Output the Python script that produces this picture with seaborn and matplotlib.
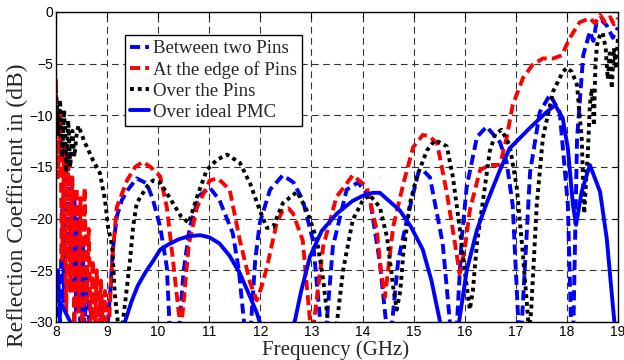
import matplotlib
matplotlib.use("Agg")
import matplotlib.pyplot as plt
import seaborn as sns

# ── Data ──────────────────────────────────────────────────────────────────────
f_between = [8.00, 8.04, 8.08, 8.12, 8.16, 8.20, 8.24, 8.28, 8.32, 8.36,
             8.40, 8.44, 8.48, 8.52, 8.56, 8.60, 8.66, 8.72, 8.80, 8.87,
             8.93, 9.00, 9.06, 9.12, 9.19, 9.29, 9.41, 9.58, 9.78, 9.90,
             10.04, 10.17, 10.22, 10.32, 10.42, 10.50, 10.62, 10.80, 11.01, 11.20, 11.46,
             11.58, 11.68, 11.75, 11.82, 11.90, 11.99, 12.19, 12.44, 12.65, 12.83, 13.03,
             13.17, 13.23, 13.30, 13.42, 13.69, 13.91, 14.14, 14.34, 14.46, 14.52, 14.58,
             14.70, 14.87, 15.09, 15.20, 15.32, 15.57, 15.71, 15.78, 15.85, 15.94, 16.04,
             16.24, 16.43, 16.69, 16.82, 16.94, 17.05, 17.08, 17.12, 17.28, 17.47, 17.67,
             17.86, 18.02, 18.08, 18.10, 18.13, 18.20, 18.32, 18.45, 18.52, 18.58, 18.68,
             18.78, 18.90, 19.00]
db_between = [-31, -25, -30, -19, -28, -13, -24, -16, -27, -18,
              -29, -20, -30, -22, -31, -25, -31, -27, -32, -28,
              -32, -31, -27.2, -22.7, -19.8, -18.2, -17.2, -16.1, -16.6, -18.2,
              -20.8, -24.7, -30, -34, -30, -25, -20.8, -17.8, -17.0, -18.2, -21.4,
              -25, -30, -34, -30, -24, -20.4, -17.2, -15.8, -16.5, -18.2, -22.1,
              -29.8, -34, -30, -22.7, -17.2, -16.5, -17.9, -24.3, -30, -34, -30,
              -24, -20.1, -15.6, -15.4, -16.0, -22.4, -30, -34, -30, -22, -16.9,
              -12.1, -11.1, -12.6, -14.5, -18.7, -30, -34, -30, -15.5, -9.7, -8.0,
              -9.7, -18.7, -30, -34, -30, -12.2, -4.2, -1.9, -2.8, -1.0, -0.8,
              -1.3, -2.5, -1.5]

f_edge = [8.00, 8.04, 8.08, 8.12, 8.16, 8.20, 8.24, 8.28, 8.32, 8.36,
          8.40, 8.44, 8.48, 8.52, 8.56, 8.60, 8.64, 8.68, 8.72, 8.76,
          8.80, 8.84, 8.88, 8.92, 8.96, 9.00, 9.04, 9.10, 9.19, 9.39, 9.55, 9.70,
          9.85, 10.04, 10.17, 10.29, 10.40, 10.45, 10.50, 10.60, 10.76, 11.01, 11.17,
          11.40, 11.60, 11.80, 11.93, 12.03, 12.13, 12.32, 12.44, 12.55, 12.64, 12.83,
          12.97, 13.00, 13.05, 13.23, 13.49, 13.81, 14.08, 14.28, 14.36, 14.44, 14.50,
          14.60, 14.80, 14.99, 15.18, 15.30, 15.46, 15.65, 15.81, 15.90, 16.00, 16.10,
          16.30, 16.49, 16.69, 16.82, 16.94, 17.14, 17.33, 17.53, 17.73, 17.90, 18.06,
          18.25, 18.45, 18.55, 18.65, 18.75, 18.85, 18.92, 19.00]
db_edge = [-6.5, -16, -10, -24, -13, -29, -14, -27, -16, -31,
           -17, -29, -18, -31, -17, -28, -21, -31, -24, -31,
           -25, -31, -26, -31, -27, -31, -30, -24, -18.9, -16.3, -15.0, -14.5,
           -15.0, -15.9, -18.9, -24, -29, -30.5, -28, -22.5, -18.9, -16.3, -16.1,
           -17.2, -22.1, -26.2, -27.9, -26.5, -24.7, -20.4, -19.2, -19.0, -19.5, -22.1,
           -29.8, -32, -30, -22.7, -17.9, -15.8, -16.9, -21.1, -25, -27.6, -25,
           -20.8, -16.6, -13.1, -11.9, -12.0, -12.7, -17.5, -22.4, -25.3, -23, -19.2,
           -15.3, -14.8, -14.8, -12.2, -9.0, -6.4, -5.1, -4.5, -4.5, -4.2, -2.5,
           -1.0, -0.6, -1.1, -0.3, -1.0, -0.5, -1.2, -0.6]

f_over = [8.00, 8.04, 8.08, 8.12, 8.16, 8.20, 8.24, 8.28, 8.32, 8.36,
          8.40, 8.44, 8.50, 8.55, 8.60,
          8.72, 8.86, 8.96, 9.02, 9.10, 9.15, 9.21, 9.26,
          9.31, 9.38, 9.45, 9.51, 9.58, 9.78, 9.90, 10.04, 10.29, 10.45, 10.60, 10.76,
          10.95, 11.15, 11.35, 11.60, 11.80, 11.99, 12.13, 12.25, 12.44, 12.72, 12.91,
          13.11, 13.23, 13.32, 13.40, 13.50, 13.62, 13.81, 14.01, 14.14, 14.34, 14.48,
          14.60, 14.67, 14.74, 14.80, 14.93, 15.06, 15.26, 15.42, 15.65, 15.77, 15.90,
          16.00, 16.10, 16.16, 16.24, 16.36, 16.49, 16.60, 16.72, 16.88, 17.02, 17.14,
          17.24, 17.26, 17.30, 17.41, 17.53, 17.73, 17.92, 18.00, 18.10, 18.20, 18.29,
          18.34, 18.38, 18.41, 18.45, 18.49, 18.53, 18.56, 18.59, 18.65, 18.70, 18.76,
          18.80, 18.84, 18.88, 18.92, 18.96, 19.00]
db_over = [-7.5, -12, -8.5, -14, -9.5, -15.5, -10.5, -15, -11.5, -14,
           -12, -11, -11.8, -12.5, -13.0,
           -14.3, -15.6, -18.2, -20.8, -22.7, -27.2, -30, -31,
           -30, -27, -24, -20.8, -18.5, -16.9, -16.3, -16.5, -18.5, -19.8, -20.4, -17.9,
           -15.3, -14.3, -13.8, -14.6, -16.6, -19.2, -20.9, -20.8, -18.5, -17.4, -19.2,
           -22.1, -25.9, -29.8, -32, -30, -25, -20.1, -18.2, -17.7, -18.9, -21.8,
           -26.6, -28.8, -27, -23.3, -18.5, -16.0, -13.4, -12.4, -13.0, -16.0, -20.8,
           -25, -28.8, -27, -22.4, -18.2, -13.5, -11.8, -11.4, -12.9, -17, -23.5,
           -29.6, -31, -29, -18.7, -12.2, -7.7, -5.8, -5.4, -5.8, -7.1, -12.2,
           -19.5, -16, -13.8, -9, -7.4, -11, -5, -3.2, -2.2, -2.0, -3.5,
           -6.5, -4, -7.4, -3.5, -5.5, -2.5]

f_pmc = [8.00, 8.10, 8.20, 8.31, 8.45, 8.90, 9.20, 9.35, 9.48, 9.60, 9.75, 9.90,
         10.04, 10.20, 10.40, 10.60, 10.82, 11.00, 11.20, 11.40, 11.60, 11.75, 11.93,
         12.00, 12.30, 12.60, 12.68, 12.80, 12.97, 13.20, 13.50, 13.80, 14.00, 14.20,
         14.34, 14.50, 14.73, 14.95, 15.18, 15.35, 15.51, 15.60, 15.75, 15.89, 16.04,
         16.24, 16.43, 16.69, 16.88, 17.28, 17.60, 17.77, 17.92, 18.02, 18.12, 18.18,
         18.29, 18.45, 18.65, 18.78, 18.90, 18.95]
db_pmc = [-27.2, -28.2, -29.2, -30.3, -34, -36, -34, -30, -28, -26.5, -25.2, -24.1,
          -23.0, -22.5, -22.0, -21.7, -21.6, -21.8, -22.4, -23.6, -25.3, -27.0, -29.1,
          -30.2, -35, -31, -29.8, -27, -23.7, -21.2, -19.5, -18.3, -17.8, -17.5,
          -17.5, -18.2, -19.2, -20.8, -23.0, -26, -29.8, -32, -33, -30, -25,
          -21.1, -18.5, -15.3, -13.2, -11.2, -9.7, -9.0, -10.3, -13.2, -18.7, -20.6,
          -17.4, -14.8, -17.4, -21.9, -28.4, -31]

labels = ["Between two Pins", "At the edge of Pins", "Over the Pins", "Over ideal PMC"]
x_ticks = list(range(8, 20))
y_ticks = [-30, -25, -20, -15, -10, -5, 0]

# ── Style ─────────────────────────────────────────────────────────────────────
sns.set_theme(style="white")
plt.rcParams.update({"font.family": ["Liberation Serif", "DejaVu Serif"],
                     "axes.edgecolor": "black", "axes.linewidth": 1.0})

fig = plt.figure(figsize=(6.24, 3.60), dpi=100)
ax = fig.add_axes([0.0897, 0.1056, 0.9006, 0.8611])

LW = 2.8
DASH = (0, (2.6, 1.3))
sns.lineplot(x=f_between, y=db_between, ax=ax, sort=False, estimator=None,
             color="#0000FF", lw=LW, linestyle=DASH, label=labels[0])
sns.lineplot(x=f_edge, y=db_edge, ax=ax, sort=False, estimator=None,
             color="#FF0000", lw=LW, linestyle=DASH, label=labels[1])
sns.lineplot(x=f_over, y=db_over, ax=ax, sort=False, estimator=None,
             color="black", lw=LW, linestyle=(0, (1.0, 1.0)), label=labels[2])
sns.lineplot(x=f_pmc, y=db_pmc, ax=ax, sort=False, estimator=None,
             color="#0000FF", lw=LW, linestyle="-", label=labels[3])
for ln in ax.get_lines():
    ln.set_dash_capstyle("butt")

ax.set_xlim(8, 19)
ax.set_ylim(-30, 0)
ax.set_xticks(x_ticks)
ax.set_yticks(y_ticks)
ax.tick_params(direction="in", length=4, width=0.8, top=True, right=True,
               labelsize=10, pad=2, colors="black")
for lab in ax.get_xticklabels() + ax.get_yticklabels():
    lab.set_family("Liberation Sans")
ax.grid(True, color="0.2", linestyle=(0, (6, 4)), linewidth=0.8)
ax.set_axisbelow(True)

ax.set_xlabel("Frequency (GHz)", fontsize=15, va="top")
ax.xaxis.set_label_coords(0.497, -0.058)
ax.set_ylabel("Reflection Coefficient in (dB)", fontsize=17)
ax.yaxis.set_label_coords(-0.05, 0.378)

leg = ax.legend(loc="upper left", bbox_to_anchor=(0.123, 0.926), fontsize=13.5,
                frameon=True, fancybox=False, handlelength=1.0, handletextpad=0.2,
                labelspacing=0.2, borderpad=0.28, borderaxespad=0)
leg.get_frame().set_edgecolor("black")
leg.get_frame().set_linewidth(1.0)
leg.get_frame().set_alpha(1)

fig.savefig("out.png", dpi=100)
